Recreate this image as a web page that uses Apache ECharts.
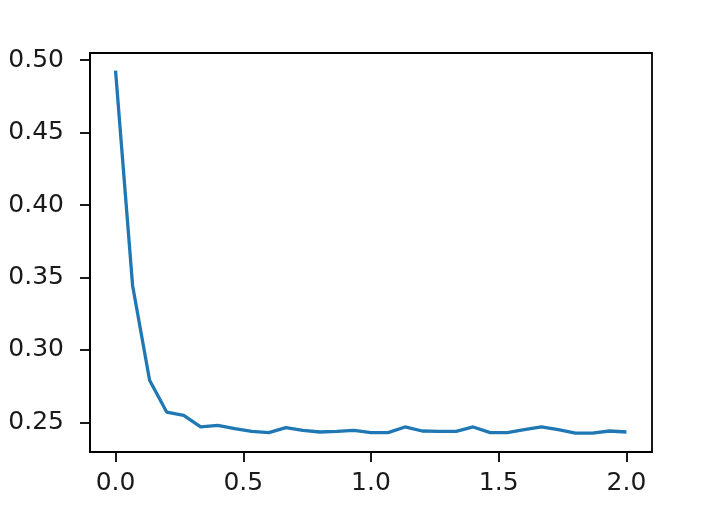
<!DOCTYPE html>
<html>
<head>
<meta charset="utf-8">
<script src="https://cdn.jsdelivr.net/npm/echarts@6/dist/echarts.min.js"></script>
<style>
html,body{margin:0;padding:0;background:#fff;}
#chart{width:721px;height:506px;}
</style>
</head>
<body>
<div id="chart"></div>
<script>
// x positions (31 evenly spaced samples between 0 and 2)
const xValues = [0.0000,0.0667,0.1333,0.2000,0.2667,0.3333,0.4000,0.4667,0.5333,0.6000,
                 0.6667,0.7333,0.8000,0.8667,0.9333,1.0000,1.0667,1.1333,1.2000,1.2667,
                 1.3333,1.4000,1.4667,1.5333,1.6000,1.6667,1.7333,1.8000,1.8667,1.9333,2.0000];
const yValues = [0.4928,0.3445,0.2790,0.2571,0.2548,0.2468,0.2479,0.2457,0.2438,0.2429,
                 0.2463,0.2445,0.2433,0.2438,0.2445,0.2429,0.2429,0.2468,0.2440,0.2438,
                 0.2438,0.2468,0.2429,0.2429,0.2450,0.2468,0.2450,0.2426,0.2426,0.2440,0.2433];
const xTicks = [0, 0.5, 1.0, 1.5, 2.0];
const yTicks = [0.25, 0.30, 0.35, 0.40, 0.45, 0.50];

const chart = echarts.init(document.getElementById('chart'), null, {renderer: 'canvas'});
const fontFamily = 'DejaVu Sans';
const axisColor = '#000';
chart.setOption({
  animation: false,
  backgroundColor: '#fff',
  grid: {left: 90, right: 69, top: 53, bottom: 54, show: true, borderColor: axisColor, borderWidth: 1.8, backgroundColor: 'transparent'},
  xAxis: {
    type: 'value', min: -0.1, max: 2.1,
    splitLine: {show: false},
    axisLine: {show: true, onZero: false, lineStyle: {color: axisColor, width: 1.8}},
    axisTick: {show: true, length: 10, inside: false, customValues: xTicks, lineStyle: {color: axisColor, width: 1.8}},
    axisLabel: {show: true, customValues: xTicks, margin: 19, color: '#1a1a1a', fontFamily: fontFamily, fontSize: 25,
      formatter: v => v.toFixed(1)}
  },
  yAxis: {
    type: 'value', min: 0.2295, max: 0.5050,
    splitLine: {show: false},
    axisLine: {show: true, onZero: false, lineStyle: {color: axisColor, width: 1.8}},
    axisTick: {show: true, length: 10, inside: false, customValues: yTicks, lineStyle: {color: axisColor, width: 1.8}},
    axisLabel: {show: true, customValues: yTicks, margin: 26, color: '#1a1a1a', fontFamily: fontFamily, fontSize: 25,
      formatter: v => v.toFixed(2)}
  },
  series: [{
    type: 'line',
    data: xValues.map((x, i) => [x, yValues[i]]),
    showSymbol: false,
    symbol: 'none',
    lineStyle: {color: '#1f77b4', width: 3.3},
    smooth: false
  }]
});
</script>
</body>
</html>
